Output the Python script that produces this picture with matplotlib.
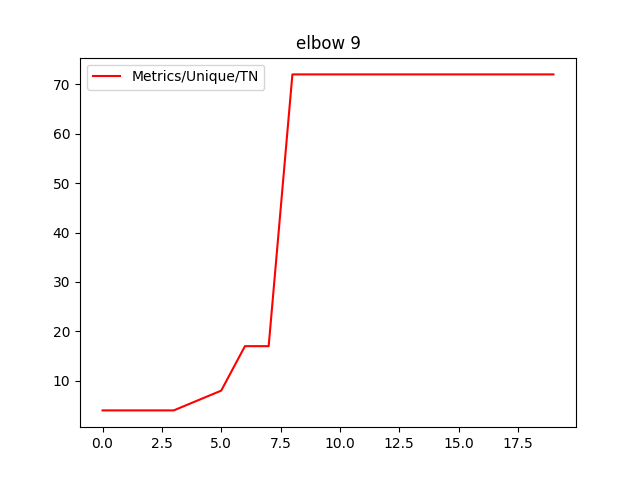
import matplotlib
matplotlib.use("Agg")
import matplotlib.pyplot as plt

x_vals = list(range(20))
tn_vals = [4, 4, 4, 4, 6, 8, 17, 17, 72, 72, 72, 72, 72, 72, 72, 72, 72, 72, 72, 72]

fig, ax = plt.subplots(figsize=(6.4, 4.8), dpi=100)
ax.plot(x_vals, tn_vals, color='red', label='Metrics/Unique/TN')
ax.set_title("elbow 9")
ax.legend(loc='upper left')
plt.savefig("out.png", dpi=100)
plt.close()
